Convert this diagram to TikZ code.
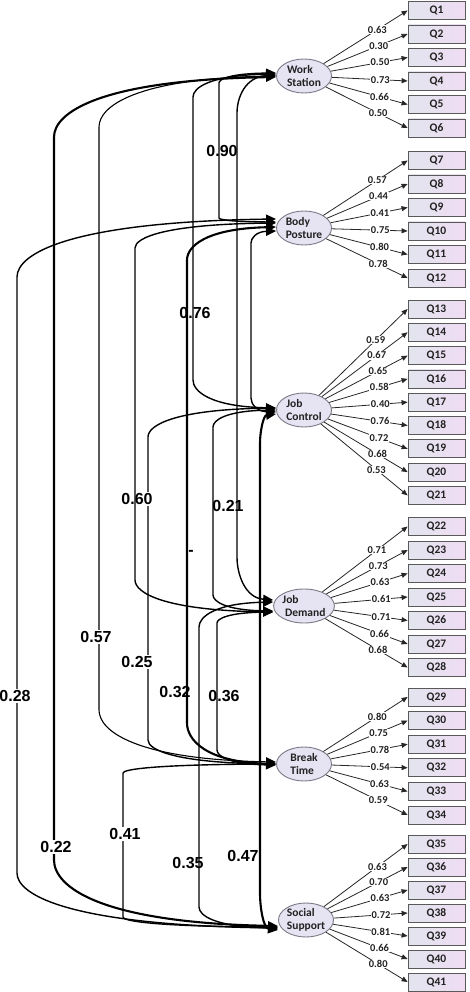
\documentclass[tikz,border=0pt]{standalone}
\usepackage{fontspec}
\setmainfont{Carlito}
\newfontfamily\arialf{Liberation Sans}
\usetikzlibrary{arrows.meta,shapes.geometric}
\definecolor{boxL}{HTML}{E2E5EE}
\definecolor{boxR}{HTML}{EFDCF3}
\definecolor{ellF}{HTML}{E6E3F3}
\definecolor{ellD}{HTML}{7A7A86}
\definecolor{txt}{HTML}{222222}
% #1 style, #2 upper end, #3 uy, #4 x, #5 yt, #6 yb, #7 lower end, #8 ly
\newcommand{\covarc}[8]{%
\draw[cov,#1] (#2) .. controls ({#4+0.2*(277-#4)},{#3+0.05*(#5-#3)}) and (#4,{#5-0.4*(#5-#3)}) .. (#4,#5) -- (#4,#6) .. controls (#4,{#6+0.4*(#8-#6)}) and ({#4+0.2*(277-#4)},{#8-0.05*(#8-#6)}) .. (#7);}
\tikzset{
  qbox/.style={rectangle, draw=black!65, line width=0.8pt, left color=boxL, right color=boxR,
    minimum width=57pt, minimum height=18pt, inner sep=0pt, text=txt,
    font=\fontsize{11.5}{12}\selectfont\bfseries},
  fac/.style={ellipse, draw=ellD, line width=0.9pt, fill=ellF, minimum width=55pt, minimum height=34pt,
    inner sep=0pt, align=left, text=txt, font=\fontsize{11.5}{13}\selectfont\bfseries},
  load/.style={-{Triangle[length=6pt,width=5pt]}, line width=0.8pt, draw=black!85},
  ll/.style={fill=white, inner sep=0.6pt, text=txt, font=\fontsize{10.5}{11}\selectfont\bfseries},
  cov/.style={{Triangle[length=10pt,width=9pt]}-{Triangle[length=10pt,width=9pt]}, line width=1.4pt},
  thk/.style={line width=2.1pt},
  cl/.style={inner sep=1pt, font=\arialf\bfseries\fontsize{16}{16}\selectfont},
  clf/.style={cl, fill=white, inner sep=1.5pt}
}
\begin{document}
\begin{tikzpicture}[x=1pt,y=-1pt]
\useasboundingbox (0,0) rectangle (469,992);
% factors
\node[fac] (WS) at (304,76) {Work\\Station};
\node[fac] (BP) at (304,228) {Body\\Posture};
\node[fac] (JC) at (304,410) {Job\\Control};
\node[fac] (JD) at (304,606) {Job\\\ Demand};
\node[fac] (BT) at (304,764) {Break\\Time};
\node[fac] (SS) at (306,920) {Social\\Support};
% items
\foreach \i/\y in {1/10.5,2/34,3/57.5,4/81,5/104.5,6/128,
  7/160.5,8/184,9/207.5,10/231,11/254.5,12/278,
  13/309,14/332.3,15/355.6,16/378.9,17/402.2,18/425.5,19/448.8,20/472.1,21/495.4,
  22/526.5,23/550,24/573.5,25/597,26/620.5,27/644,28/667.5,
  29/697,30/720.6,31/744.2,32/767.8,33/791.4,34/815,
  35/844,36/867,37/890,38/913,39/936,40/959,41/982}
  \node[qbox] (q\i) at (436.5,\y) {Q\i};
% loadings
\foreach \f/\i/\v in {WS/1/0.63,WS/2/0.30,WS/3/0.50,WS/4/0.73,WS/5/0.66,WS/6/0.50,
  BP/7/0.57,BP/8/0.44,BP/9/0.41,BP/10/0.75,BP/11/0.80,BP/12/0.78,
  JC/13/0.59,JC/14/0.67,JC/15/0.65,JC/16/0.58,JC/17/0.40,JC/18/0.76,JC/19/0.72,JC/20/0.68,JC/21/0.53,
  JD/22/0.71,JD/23/0.73,JD/24/0.63,JD/25/0.61,JD/26/0.71,JD/27/0.66,JD/28/0.68,
  BT/29/0.80,BT/30/0.75,BT/31/0.78,BT/32/0.54,BT/33/0.63,BT/34/0.59,
  SS/35/0.63,SS/36/0.70,SS/37/0.63,SS/38/0.72,SS/39/0.81,SS/40/0.66,SS/41/0.80}
  \draw[load] (\f) -- node[ll,pos=0.64]{\v} (q\i.west);
% covariances
\covarc{}{[yshift=3pt]WS.west}{73}{219}{83}{218}{[yshift=6pt]BP.west}{222}
\covarc{}{[yshift=2pt]WS.west}{74}{193}{97}{380}{[yshift=2pt]JC.west}{408}
\covarc{}{[yshift=1pt]WS.west}{75}{237}{113}{557}{[yshift=6pt]JD.west}{600}
\covarc{line width=1.1pt}{WS.west}{76}{99}{127}{710}{[yshift=2pt]BT.west}{762}
\covarc{thk}{[yshift=-1pt]WS.west}{77}{54}{137}{860}{[yshift=-6pt]SS.west}{926}
\covarc{}{[yshift=-3pt]BP.west}{231}{251}{243}{398}{[yshift=-2pt]JC.west}{412}
\covarc{thk}{[yshift=1pt]BP.west}{227}{187}{260}{723}{BT.west}{764}
\covarc{}{[yshift=9pt]BP.west}{219}{17}{277}{873}{[yshift=-8pt]SS.west}{928}
\covarc{}{JC.west}{410}{213}{427}{595}{[yshift=-5pt]JD.west}{611}
\covarc{}{[yshift=2pt]JC.west}{408}{148}{437}{740}{BT.west}{764}
\covarc{thk}{[yshift=-4pt]JC.west}{414}{260}{443}{893}{[yshift=-10pt]SS.west}{930}
\covarc{}{[yshift=-6pt]JD.west}{612}{217}{623}{750}{[yshift=-1pt]BT.west}{765}
\covarc{}{[yshift=4pt]JD.west}{602}{199}{627}{907}{[yshift=-8pt]SS.west}{928}
\covarc{}{BT.west}{764}{123}{773}{917}{[yshift=-7pt]SS.west}{927}
% labels with white background
\node[clf] (c060) at (137,499) {0.60};
\node[clf] (c057) at (96,637) {0.57};
\node[clf] (c025) at (137,662) {0.25};
\node[clf] (c028) at (15,696) {0.28};
\node[clf] (c041) at (125,834) {0.41};
\node[clf] (c022) at (56,847) {0.22};
% BP - JD drawn over the 0.60 label
\covarc{}{[yshift=5pt]BP.west}{223}{135}{248}{580}{[yshift=-6pt]JD.west}{612}
% transparent labels
\node[cl] (c090) at (222,151) {0.90};
\node[cl] (c076) at (195,313) {0.76};
\node[cl] (c021) at (228,506) {0.21};
\node[cl] (cdash) at (191,553) {-};
\node[cl] (c032) at (175,692) {0.32};
\node[cl] (c036) at (224,696) {0.36};
\node[cl] (c035) at (188,863) {0.35};
\node[cl] (c047) at (243,856) {0.47};
\end{tikzpicture}
\end{document}
